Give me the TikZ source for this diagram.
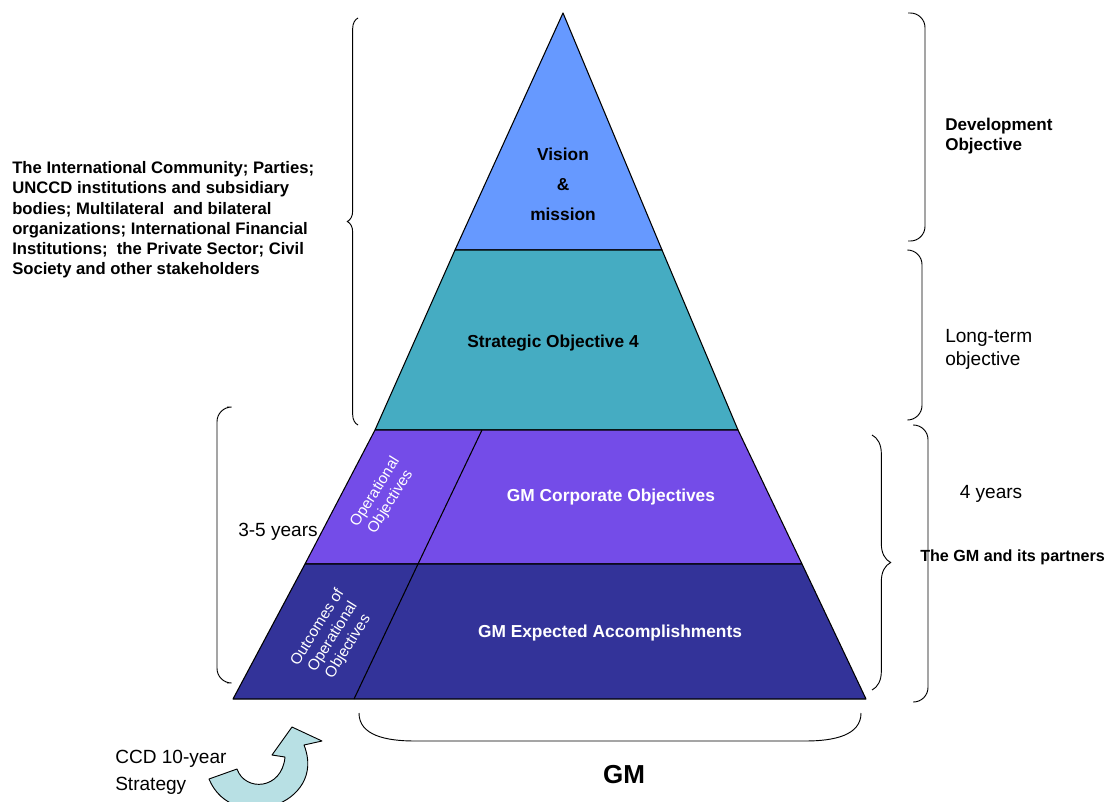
\documentclass[tikz,border=0pt]{standalone}
\usepackage{fontspec}
\setmainfont{Liberation Sans}
\usetikzlibrary{decorations.pathreplacing, positioning}
\definecolor{vision}{RGB}{102,153,255}
\definecolor{estrategia}{RGB}{69,172,194}
\definecolor{operativo}{RGB}{116,76,232}
\definecolor{resultado}{RGB}{51,51,153}
\definecolor{flechaazul}{RGB}{184,224,228}
\tikzset{
  nivel/.style={draw=black, line width=0.8pt, line join=round},
  rotulo/.style={font=\bfseries\fontsize{13}{15.6}\selectfont, align=center},
  rotuloblanco/.style={rotulo, text=white},
  girado/.style={font=\fontsize{11.5}{13.5}\selectfont, text=white,
                 align=center, rotate=58, inner sep=0pt},
  lateral/.style={font=\fontsize{14.3}{17.2}\selectfont, align=left,
                  inner sep=0pt},
  lateralnegrita/.style={font=\bfseries\fontsize{12.5}{15.2}\selectfont,
                         align=left, inner sep=0pt},
  llave/.style={draw=black, line width=0.7pt},
  llavepunta/.style={llave, decorate, decoration={brace, amplitude=#1}}
}
\begin{document}
\begin{tikzpicture}[x=0.75pt, y=-0.75pt]
  \useasboundingbox (0,0) rectangle (1112,801);
  \clip (0,0) rectangle (1112,801);

  % ── Pirámide ──
  \filldraw[nivel, fill=vision]     (563,13) -- (662,250) -- (455,250) -- cycle;
  \filldraw[nivel, fill=estrategia] (455,250) -- (662,250) -- (738,430)
                                    -- (375,430) -- cycle;
  \filldraw[nivel, fill=operativo]  (375,430) -- (738,430) -- (802,564)
                                    -- (305,564) -- cycle;
  \filldraw[nivel, fill=resultado]  (305,564) -- (802,564) -- (866,699)
                                    -- (233,699) -- cycle;
  \draw[nivel] (482,430) -- (418,564) -- (354,699);

  % ── Textos de la pirámide ──
  \node[rotulo, font=\bfseries\fontsize{13}{22.5}\selectfont] (vis) at (563,184)
        {Vision\\\&\\mission};
  \node[rotulo] (so4)  at (553,343) {Strategic Objective 4};
  \node[rotuloblanco] (corp) at (611,497) {GM Corporate Objectives};
  \node[rotuloblanco] (ea)   at (610,633) {GM Expected Accomplishments};
  \node[girado] (oo)  at (383,497) {Operational\\Objectives};
  \node[girado] (ooo) at (333,637) {Outcomes of\\Operational\\Objectives};

  % ── Llaves ──
  \draw[llavepunta=8pt] (358,425) -- (358,18);
  \draw[llave, rounded corners=11pt] (227,407) -- (217,407) -- (217,683) -- (227,683);
  \draw[llave, rounded corners=11pt] (908,13) -- (925,13) -- (925,241) -- (908,241);
  \draw[llave, rounded corners=11pt] (908,250) -- (922,250) -- (922,420) -- (908,420);
  \draw[llave, rounded corners=11pt] (913,425) -- (928,425) -- (928,702) -- (913,702);
  \draw[llavepunta=14pt] (872,435) -- (872,690);
  \draw[llave] (359,713) .. controls (359,735) and (385,741) .. (415,741)
               -- (805,741) .. controls (835,741) and (861,735) .. (861,713);

  % ── Textos laterales ──
  \node[lateralnegrita, anchor=west] (actores) at (12,220)
        {The International Community; Parties;\\
         UNCCD institutions and subsidiary\\
         bodies; Multilateral\ \ and bilateral\\
         organizations; International Financial\\
         Institutions;\ \ the Private Sector; Civil\\
         Society and other stakeholders};
  \node[lateralnegrita, font=\bfseries\fontsize{12.8}{15.2}\selectfont,
        anchor=west] (dev) at (945,136) {Development\\Objective};
  \node[lateral, anchor=west, font=\fontsize{14.3}{17.3}\selectfont] (lto) at (945,349)
        {Long-term\\objective};
  \node[lateral] (cuatro) at (991,494) {4\ years};
  \node[lateralnegrita, font=\bfseries\fontsize{12.1}{15}\selectfont,
        anchor=west] (socios) at (920,557) {The GM and its partners};
  \node[lateral, anchor=west] (tres) at (238,532) {3-5 years};
  \node[lateral, anchor=west, font=\fontsize{14.3}{20}\selectfont] (ccd) at (115,772)
        {CCD 10-year\\Strategy};
  \node[font=\bfseries\fontsize{19.5}{23}\selectfont] (gm) at (624,775) {GM};

  % ── Flecha curva ──
  \filldraw[nivel, fill=flechaazul, line width=0.7pt]
        (209,779) -- (237,769) .. controls (245,792) and (282,790) .. (285,757)
        -- (272,755) -- (292,727) -- (322,741) -- (304,745)
        .. controls (328,805) and (232,835) .. (209,779) -- cycle;
\end{tikzpicture}
\end{document}
